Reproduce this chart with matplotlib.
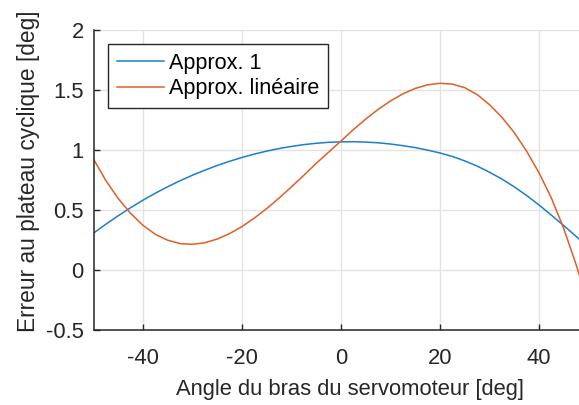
import matplotlib
matplotlib.use("Agg")
import matplotlib.pyplot as plt

angle = [-50, -47.5, -45, -42.5, -40, -37.5, -35, -32.5, -30, -27.5, -25, -22.5,
         -20, -17.5, -15, -12.5, -10, -7.5, -5, -2.5, 0, 2.5, 5, 7.5, 10, 12.5,
         15, 17.5, 20, 22.5, 25, 27.5, 30, 32.5, 35, 37.5, 40, 42.5, 45, 47.5, 50]

approx1 = [0.307, 0.382, 0.452, 0.519, 0.582, 0.640, 0.694, 0.744, 0.790, 0.832,
           0.871, 0.906, 0.938, 0.966, 0.991, 1.012, 1.030, 1.045, 1.056, 1.064,
           1.068, 1.069, 1.066, 1.060, 1.050, 1.036, 1.020, 0.999, 0.975, 0.946,
           0.909, 0.866, 0.815, 0.758, 0.693, 0.621, 0.542, 0.457, 0.370, 0.280, 0.188]

approx_lin = [0.925, 0.745, 0.595, 0.472, 0.372, 0.297, 0.248, 0.220, 0.214, 0.227,
              0.258, 0.303, 0.362, 0.433, 0.512, 0.600, 0.693, 0.790, 0.889, 0.982,
              1.075, 1.170, 1.258, 1.338, 1.409, 1.468, 1.513, 1.543, 1.556, 1.549,
              1.519, 1.462, 1.378, 1.273, 1.145, 0.990, 0.810, 0.600, 0.345, 0.045, -0.290]

series_labels = ["Approx. 1", "Approx. linéaire"]
xticks = [-40, -20, 0, 20, 40]
yticks = [-0.5, 0, 0.5, 1, 1.5, 2]
ytick_labels = ["-0.5", "0", "0.5", "1", "1.5", "2"]

plt.rcParams['font.family'] = ['Liberation Sans', 'DejaVu Sans']

fig = plt.figure(figsize=(5.79, 4.05), dpi=100)
ax = fig.add_axes([93.5 / 579, 75 / 405, 495 / 579, 300 / 405])

ax.plot(angle, approx1, color="#1a7fcc", lw=1.1, label=series_labels[0])
ax.plot(angle, approx_lin, color="#e05e28", lw=1.1, label=series_labels[1])

ax.set_xlim(-50, 50)
ax.set_ylim(-0.5, 2)
ax.set_xticks(xticks)
ax.set_xticklabels([str(t) for t in xticks])
ax.set_yticks(yticks)
ax.set_yticklabels(ytick_labels)

ax.grid(True, color="#e3e3e3", lw=1.0)
ax.set_axisbelow(True)
for s in ["top", "right"]:
    ax.spines[s].set_visible(False)
for s in ["left", "bottom"]:
    ax.spines[s].set_color("#262626")
    ax.spines[s].set_linewidth(1.1)

ax.tick_params(direction="in", length=4, width=1.0, color="#262626",
               labelcolor="#262626", labelsize=15.8)
ax.tick_params(axis="x", pad=13)
ax.tick_params(axis="y", pad=7)

ax.set_xlabel("Angle du bras du servomoteur [deg]", fontsize=15.8, color="#262626")
ax.set_ylabel("Erreur au plateau cyclique [deg]", fontsize=16.4, color="#262626")
ax.xaxis.set_label_coords((350 - 93.5) / 495, -0.165)
ax.yaxis.set_label_coords((40 - 93.5) / 495, (330 - 171.5) / 300)

leg = ax.legend(loc="upper left", bbox_to_anchor=(0.029, 0.953), borderaxespad=0,
                fontsize=15.6, frameon=True, fancybox=False, handlelength=2.17,
                handletextpad=0.23, borderpad=0.4, labelspacing=0.2)
leg.get_frame().set_edgecolor("#262626")
leg.get_frame().set_linewidth(1.0)
leg.get_frame().set_alpha(1)

fig.savefig("out.png", dpi=100)
